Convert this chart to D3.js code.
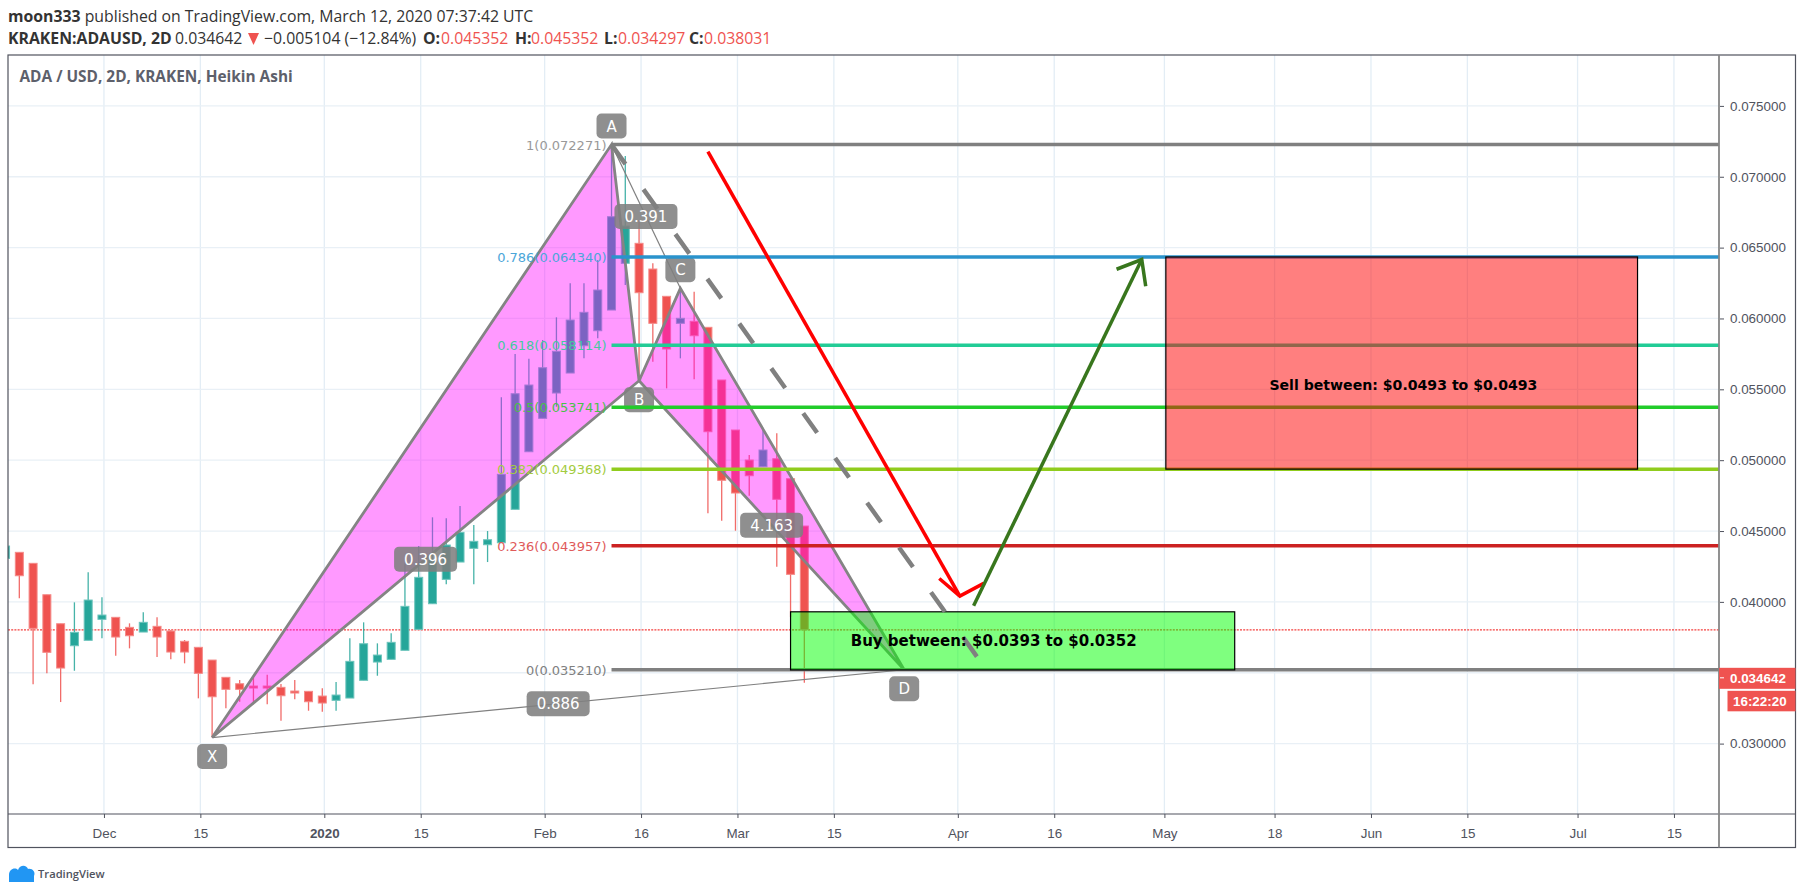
<!DOCTYPE html>
<html>
  <head>
    <title>ADA / USD, 2D, KRAKEN, Heikin Ashi</title>
    <meta charset="utf-8" />
    <script src="https://d3js.org/d3.v7.min.js"></script>
    <style>
      body { margin: 0; background: #fff; }
      text { font-family: "Open Sans", sans-serif; }
    </style>
  </head>
  <body>
    <svg id="chart" width="1804" height="894"></svg>

    <script>
      // Heikin Ashi bars, one every 2 days starting 2019-11-17
      const firstBar = "2019-11-17";
      const barOpen = [0.043073, 0.043497, 0.042721, 0.040505, 0.038458, 0.036906, 0.037287, 0.038769, 0.03891, 0.038204, 0.037872, 0.038275, 0.037943, 0.037216, 0.036793, 0.035896, 0.034676, 0.034224, 0.034062, 0.034062, 0.03397, 0.033709, 0.033688, 0.033356, 0.033053, 0.033215, 0.034464, 0.035755, 0.035946, 0.036581, 0.038063, 0.03987, 0.041591, 0.042812, 0.043779, 0.044033, 0.044174, 0.046531, 0.050596, 0.052953, 0.054739, 0.05615, 0.058077, 0.059135, 0.060596, 0.063892, 0.065303, 0.063489, 0.061563, 0.059657, 0.059799, 0.059375, 0.055656, 0.052128, 0.05001, 0.049538, 0.050102, 0.048691, 0.045352];
      const barHigh = [0.043941, 0.043497, 0.042721, 0.040505, 0.038458, 0.039968, 0.042085, 0.040321, 0.03891, 0.038486, 0.039263, 0.03891, 0.038014, 0.037308, 0.036793, 0.035896, 0.034676, 0.034485, 0.034718, 0.034859, 0.034203, 0.034485, 0.033688, 0.033899, 0.034344, 0.037428, 0.038557, 0.037075, 0.037781, 0.042721, 0.043941, 0.045967, 0.045896, 0.046764, 0.045423, 0.045, 0.054435, 0.057491, 0.057159, 0.058479, 0.060081, 0.06248, 0.06248, 0.064124, 0.072271, 0.071464, 0.066947, 0.063892, 0.061563, 0.062149, 0.061888, 0.059375, 0.055656, 0.052128, 0.050363, 0.05229, 0.051895, 0.048691, 0.045352];
      const barLow = [0.043073, 0.040251, 0.034182, 0.034958, 0.032933, 0.035141, 0.037287, 0.037428, 0.0362, 0.036722, 0.037872, 0.036108, 0.035946, 0.035664, 0.033194, 0.030427, 0.032488, 0.032954, 0.03277, 0.03277, 0.031613, 0.033123, 0.032319, 0.032248, 0.032319, 0.033215, 0.034464, 0.034789, 0.035946, 0.036581, 0.038063, 0.03987, 0.041239, 0.042812, 0.041239, 0.042812, 0.044174, 0.046531, 0.050596, 0.052953, 0.053772, 0.05615, 0.057187, 0.058599, 0.060596, 0.06236, 0.055656, 0.056947, 0.05507, 0.057187, 0.055705, 0.046249, 0.045727, 0.045021, 0.047491, 0.049538, 0.042481, 0.038931, 0.034297];
      const barClose = [0.043941, 0.041845, 0.038133, 0.03644, 0.035332, 0.037851, 0.040131, 0.039072, 0.03752, 0.037611, 0.038557, 0.03752, 0.036461, 0.036461, 0.034958, 0.033306, 0.033829, 0.033829, 0.033921, 0.033921, 0.033377, 0.033568, 0.032954, 0.032862, 0.033427, 0.035805, 0.037047, 0.036249, 0.037146, 0.039686, 0.041733, 0.042953, 0.044012, 0.044908, 0.044273, 0.044386, 0.049001, 0.054689, 0.055303, 0.056524, 0.057681, 0.05989, 0.060434, 0.062007, 0.06718, 0.066524, 0.061817, 0.059657, 0.057844, 0.06001, 0.058782, 0.052008, 0.048578, 0.047682, 0.048903, 0.050716, 0.047237, 0.041944, 0.038031];
      const closeLine = 0.038031;
      const lastPrice = 0.034642;

      // Eje de tiempo y de precios
      const timeTicks = ["2019-12-01", "2019-12-15", "2020-01-02", "2020-01-16", "2020-02-03", "2020-02-17", "2020-03-02", "2020-03-16", "2020-04-03", "2020-04-17", "2020-05-03", "2020-05-19", "2020-06-02", "2020-06-16", "2020-07-02", "2020-07-16"];
      const timeLabels = ["Dec", "15", "2020", "15", "Feb", "16", "Mar", "15", "Apr", "16", "May", "18", "Jun", "15", "Jul", "15"];
      const priceTicks = [0.03, 0.035, 0.04, 0.045, 0.05, 0.055, 0.06, 0.065, 0.07, 0.075];

      // XABCD pattern
      const pointNames = ["X", "A", "B", "C", "D"];
      const pointDates = ["2019-12-17", "2020-02-13", "2020-02-17", "2020-02-23", "2020-03-26T12:00Z"];
      const pointPrices = [0.030427, 0.072271, 0.055607, 0.062127, 0.03521];
      const ratioLabels = ["0.396", "0.391", "4.163", "0.886"];
      const ratioFrom = ["X", "A", "B", "X"];
      const ratioTo = ["B", "C", "D", "D"];

      // Fibonacci levels
      const fibLevels = ["1", "0.786", "0.618", "0.5", "0.382", "0.236", "0"];
      const fibPrices = [0.072271, 0.06434, 0.058114, 0.053741, 0.049368, 0.043957, 0.03521];
      const fibColors = ["#808080", "#2a93cc", "#22cc96", "#22cc2a", "#90cc1e", "#cc2222", "#808080"];
      const fibTextColors = ["#999999", "#4ba6d9", "#45c9a0", "#49c149", "#a3cc40", "#e05a5a", "#808080"];

      // Zones and arrows
      const zoneTexts = ["Buy between: $0.0393 to $0.0352", "Sell between: $0.0493 to $0.0493"];
      const zoneStart = ["2020-03-10", "2020-05-03T12:00Z"];
      const zoneEnd = ["2020-05-13T12:00Z", "2020-07-11"];
      const zoneTop = [0.0393, 0.06434];
      const zoneBottom = [0.0352, 0.049368];
      const zoneTextDate = ["2020-04-08T12:00Z", "2020-06-07"];
      const zoneTextPrice = [0.03725, 0.0553];
      const zoneColors = ["#00ff00", "#ff0000"];
      const zoneFontSizes = ["15px", "14.1px"];
      const arrowFromDate = ["2020-02-27", "2020-04-05T14:00Z"];
      const arrowFromPrice = [0.071768, 0.039735];
      const arrowToDate = ["2020-04-03T14:00Z", "2020-04-30"];
      const arrowToPrice = [0.040413, 0.06416];
      const arrowColors = ["#ff0000", "#38761d"];
      const arrowWings = [[1.6, -0.35], [0.75, -0.6]];
      const dashEndDate = "2020-04-06T10:00Z";
      const dashEndPrice = 0.035896;

      const left = 8;
      const top_ = 55;
      const right = 1795.5;
      const bottom = 847.5;
      const axisX = 1719;
      const axisY = 814;
      const red = "#ef5350";
      const teal = "#26a69a";
      const gray = "#808080";
      const textGray = "#50535e";

      const svg = d3.select("#chart");
      const day = (s) => new Date(s.length === 10 ? s + "T00:00Z" : s);

      // Escalas: 6.886 px por día
      const x = d3
        .scaleUtc()
        .domain([day(firstBar), day("2020-07-17")])
        .range([5.55, 5.55 + 243 * 6.886]);
      const y = d3.scaleLinear().domain([0.03, 0.075]).range([743.6, 105.9]);

      const bars = barOpen.map((o, i) => ({
        date: d3.utcDay.offset(day(firstBar), i * 2),
        o,
        h: barHigh[i],
        l: barLow[i],
        c: barClose[i],
      }));
      const points = {};
      pointNames.forEach((n, i) => {
        points[n] = { name: n, x: x(day(pointDates[i])), y: y(pointPrices[i]) };
      });

      svg
        .append("clipPath")
        .attr("id", "plot")
        .append("rect")
        .attr("x", left)
        .attr("y", top_)
        .attr("width", axisX - left)
        .attr("height", axisY - top_);

      const plot = svg.append("g").attr("clip-path", "url(#plot)");

      // Rejilla
      plot
        .append("g")
        .selectAll("line")
        .data(timeTicks)
        .enter()
        .append("line")
        .attr("x1", (d) => x(day(d)) + 2)
        .attr("x2", (d) => x(day(d)) + 2)
        .attr("y1", top_)
        .attr("y2", axisY)
        .style("stroke", "#e3edf5")
        .style("stroke-width", "1.3px");
      plot
        .append("g")
        .selectAll("line")
        .data(priceTicks)
        .enter()
        .append("line")
        .attr("x1", left)
        .attr("x2", axisX)
        .attr("y1", (d) => y(d))
        .attr("y2", (d) => y(d))
        .style("stroke", "#e9f0f6")
        .style("stroke-width", "1.3px");

      // Línea del cierre
      plot
        .append("line")
        .attr("x1", left)
        .attr("x2", axisX)
        .attr("y1", y(closeLine))
        .attr("y2", y(closeLine))
        .style("stroke", "#f4403e")
        .style("stroke-dasharray", "2 1.2")
        .style("stroke-width", "1.2px");

      // Velas
      const candle = plot
        .append("g")
        .selectAll("g")
        .data(bars)
        .enter()
        .append("g");
      candle
        .append("line")
        .attr("x1", (d) => x(d.date))
        .attr("x2", (d) => x(d.date))
        .attr("y1", (d) => y(d.h))
        .attr("y2", (d) => y(d.l))
        .style("stroke", (d) => (d.c >= d.o ? teal : red))
        .style("stroke-width", "1.3px")
        .style("opacity", "0.85");
      candle
        .append("rect")
        .attr("x", (d) => x(d.date) - 4)
        .attr("width", 8)
        .attr("y", (d) => y(Math.max(d.o, d.c)))
        .attr("height", (d) => Math.abs(y(d.o) - y(d.c)))
        .style("fill", (d) => (d.c >= d.o ? teal : red))
        .style("stroke", (d) => (d.c >= d.o ? "#6cc4bc" : "#f58a88"))
        .style("stroke-width", "1px");

      // Triángulos XAB y BCD
      const line = d3
        .line()
        .x((d) => points[d].x)
        .y((d) => points[d].y);
      const pattern = plot.append("g");
      [["X", "A", "B", "X"], ["B", "C", "D", "B"]].forEach((tri) => {
        pattern
          .append("path")
          .attr("d", line(tri))
          .style("fill", "#ff00ff")
          .style("fill-opacity", 0.4)
          .style("stroke", "#848484")
          .style("stroke-width", "2.8px");
      });
      [["A", "C"], ["X", "D"]].forEach((seg) => {
        pattern
          .append("path")
          .attr("d", line(seg))
          .style("fill", "none")
          .style("stroke", gray)
          .style("stroke-width", "1.2px");
      });

      // Etiquetas del patrón
      function badge(cx, cy, w, label) {
        const g = plot.append("g");
        g.append("rect")
          .attr("x", cx - w / 2)
          .attr("y", cy - 12.5)
          .attr("width", w)
          .attr("height", 25)
          .attr("rx", 5)
          .style("fill", gray)
          .style("fill-opacity", 0.88);
        g.append("text")
          .attr("x", cx)
          .attr("y", cy + 5.5)
          .attr("text-anchor", "middle")
          .style("font-family", '"DejaVu Sans", sans-serif')
          .style("font-size", "15px")
          .style("fill", "#fff")
          .text(label);
      }
      ratioLabels.forEach((t, i) => {
        const a = points[ratioFrom[i]];
        const b = points[ratioTo[i]];
        badge((a.x + b.x) / 2, (a.y + b.y) / 2, 63, t);
      });
      pointNames.forEach((n) => {
        const below = n === "X" || n === "B" || n === "D";
        badge(points[n].x, points[n].y + (below ? 19 : -18.5), 30, n);
      });

      // Retroceso de Fibonacci
      const fib = plot.append("g");
      const fibX = points.A.x;
      fib
        .selectAll("line")
        .data(fibPrices)
        .enter()
        .append("line")
        .attr("x1", fibX)
        .attr("x2", axisX)
        .attr("y1", (d) => y(d))
        .attr("y2", (d) => y(d))
        .style("stroke", (d, i) => fibColors[i])
        .style("stroke-width", "3.5px");
      fib
        .selectAll("text")
        .data(fibPrices)
        .enter()
        .append("text")
        .attr("x", fibX - 5)
        .attr("y", (d) => y(d) + 5)
        .attr("text-anchor", "end")
        .style("font-family", '"DejaVu Sans", sans-serif')
        .style("font-size", "13px")
        .style("fill", (d, i) => fibTextColors[i])
        .text((d, i) => `${fibLevels[i]}(${d.toFixed(6)})`);

      // Zonas de compra y venta
      const zones = plot.append("g");
      zoneTexts.forEach((t, i) => {
        zones
          .append("rect")
          .attr("x", x(day(zoneStart[i])))
          .attr("y", y(zoneTop[i]))
          .attr("width", x(day(zoneEnd[i])) - x(day(zoneStart[i])))
          .attr("height", y(zoneBottom[i]) - y(zoneTop[i]))
          .style("fill", zoneColors[i])
          .style("fill-opacity", 0.5)
          .style("stroke", "#000")
          .style("stroke-width", "1.2px");
      });

      // Línea discontinua desde A
      plot
        .append("line")
        .attr("x1", points.A.x)
        .attr("y1", points.A.y)
        .attr("x2", x(day(dashEndDate)))
        .attr("y2", y(dashEndPrice))
        .style("stroke", gray)
        .style("stroke-width", "4.5px")
        .style("stroke-dasharray", "24 31");

      // Flechas
      arrowColors.forEach((color, i) => {
        const x0 = x(day(arrowFromDate[i]));
        const y0 = y(arrowFromPrice[i]);
        const x1 = x(day(arrowToDate[i]));
        const y1 = y(arrowToPrice[i]);
        const angle = Math.atan2(y0 - y1, x0 - x1);
        const wing = (a) => [x1 + 27 * Math.cos(angle + a), y1 + 27 * Math.sin(angle + a)];
        const g = plot.append("g").style("fill", "none").style("stroke", color).style("stroke-width", "3.5px");
        g.append("path").attr("d", d3.line()([[x0, y0], [x1, y1]]));
        g.append("path").attr("d", d3.line()([wing(arrowWings[i][0]), [x1, y1], wing(arrowWings[i][1])]));
      });

      zoneTexts.forEach((t, i) => {
        plot
          .append("text")
          .attr("x", x(day(zoneTextDate[i])))
          .attr("y", y(zoneTextPrice[i]) + 5)
          .attr("text-anchor", "middle")
          .style("font-family", '"DejaVu Sans", sans-serif')
          .style("font-weight", "700")
          .style("font-size", zoneFontSizes[i])
          .style("fill", "#000")
          .text(t);
      });

      // Ejes
      const priceAxis = svg
        .append("g")
        .attr("transform", `translate(${axisX + 1},0)`)
        .call(d3.axisRight(y).tickValues(priceTicks).tickFormat(d3.format(".6f")).tickSize(4).tickPadding(6));
      const timeAxis = svg
        .append("g")
        .attr("transform", `translate(2,${axisY})`)
        .call(
          d3
            .axisBottom(x)
            .tickValues(timeTicks.map(day))
            .tickFormat((d, i) => timeLabels[i])
            .tickSize(4)
            .tickPadding(10)
        );
      [priceAxis, timeAxis].forEach((a) => {
        a.select(".domain").remove();
        a.selectAll("line").style("stroke", textGray);
        a.selectAll("text")
          .style("font-family", '"Liberation Sans", sans-serif')
          .style("font-size", "13.4px")
          .style("fill", textGray);
      });
      timeAxis
        .selectAll("text")
        .filter((d, i) => timeLabels[i] === "2020")
        .style("font-weight", "700");
      // La etiqueta del último precio tapa 0.035000
      priceAxis
        .selectAll("text")
        .filter((d) => d === 0.035)
        .remove();

      // Marcos
      svg
        .append("rect")
        .attr("x", left)
        .attr("y", top_)
        .attr("width", right - left)
        .attr("height", bottom - top_)
        .style("fill", "none")
        .style("stroke", textGray)
        .style("stroke-width", "1.2px");
      svg
        .append("line")
        .attr("x1", left)
        .attr("x2", right)
        .attr("y1", axisY)
        .attr("y2", axisY)
        .style("stroke", textGray)
        .style("stroke-width", "1.2px");
      svg
        .append("line")
        .attr("x1", axisX)
        .attr("x2", axisX)
        .attr("y1", top_)
        .attr("y2", bottom)
        .style("stroke", "#868686")
        .style("stroke-width", "1.8px");

      // Etiquetas de precio y tiempo restante
      svg
        .append("rect")
        .attr("x", axisX)
        .attr("y", y(lastPrice) - 10)
        .attr("width", right - axisX)
        .attr("height", 21)
        .style("fill", red);
      svg
        .append("line")
        .attr("x1", axisX + 1)
        .attr("x2", axisX + 5)
        .attr("y1", y(lastPrice))
        .attr("y2", y(lastPrice))
        .style("stroke", "#fff");
      svg
        .append("rect")
        .attr("x", 1727.5)
        .attr("y", y(lastPrice) + 13)
        .attr("width", right - 1727.5)
        .attr("height", 20.5)
        .style("fill", red);
      svg
        .append("text")
        .attr("x", axisX + 11)
        .attr("y", y(lastPrice) + 5)
        .style("font-family", '"Liberation Sans", sans-serif')
        .style("font-size", "13.4px")
        .style("font-weight", "700")
        .style("fill", "#fff")
        .text(lastPrice.toFixed(6));
      svg
        .append("text")
        .attr("x", 1733)
        .attr("y", y(lastPrice) + 28)
        .style("font-family", '"Liberation Sans", sans-serif')
        .style("font-size", "13.4px")
        .style("font-weight", "700")
        .style("fill", "#fff")
        .text("16:22:20");

      // Cabecera
      const headerA = svg.append("text").attr("x", 8).attr("y", 22).style("font-size", "15.8px").style("fill", "#333");
      headerA.append("tspan").style("font-weight", "700").text("moon333");
      headerA.append("tspan").text(" published on TradingView.com, March 12, 2020 07:37:42 UTC");

      const head2Text = ["KRAKEN:ADAUSD, 2D", "0.034642", "−0.005104 (−12.84%)", "O:", "0.045352", "H:", "0.045352", "L:", "0.034297", "C:", "0.038031"];
      const head2X = [8, 175, 264, 423, 441, 515, 531, 604, 618, 689, 704];
      const head2Bold = [true, false, false, true, false, true, false, true, false, true, false];
      const head2Red = [false, false, false, false, true, false, true, false, true, false, true];
      svg
        .append("g")
        .selectAll("text")
        .data(head2Text)
        .enter()
        .append("text")
        .attr("x", (d, i) => head2X[i])
        .attr("y", 44)
        .style("font-size", "15.8px")
        .style("font-weight", (d, i) => (head2Bold[i] ? "700" : "400"))
        .style("fill", (d, i) => (head2Red[i] ? red : "#333"))
        .text((d) => d);
      svg
        .append("path")
        .attr("d", d3.line()([[248, 33], [259, 33], [253.5, 45]]))
        .style("fill", red);

      svg
        .append("text")
        .attr("x", 19.5)
        .attr("y", 82)
        .style("font-size", "15.4px")
        .style("font-weight", "700")
        .style("fill", "#5d606b")
        .text("ADA / USD, 2D, KRAKEN, Heikin Ashi");

      // Logo
      svg
        .append("path")
        .attr("d", "M9 875 C9 869 15 867 18 870 C20 864 27 865 28 869 C32 868 36 872 34 876 L34 882 L9 882 Z")
        .style("fill", "#2196f3");
      svg
        .append("text")
        .attr("x", 38)
        .attr("y", 878)
        .style("font-size", "11.2px")
        .style("font-weight", "600")
        .style("fill", textGray)
        .text("TradingView");
    </script>
  </body>
</html>
